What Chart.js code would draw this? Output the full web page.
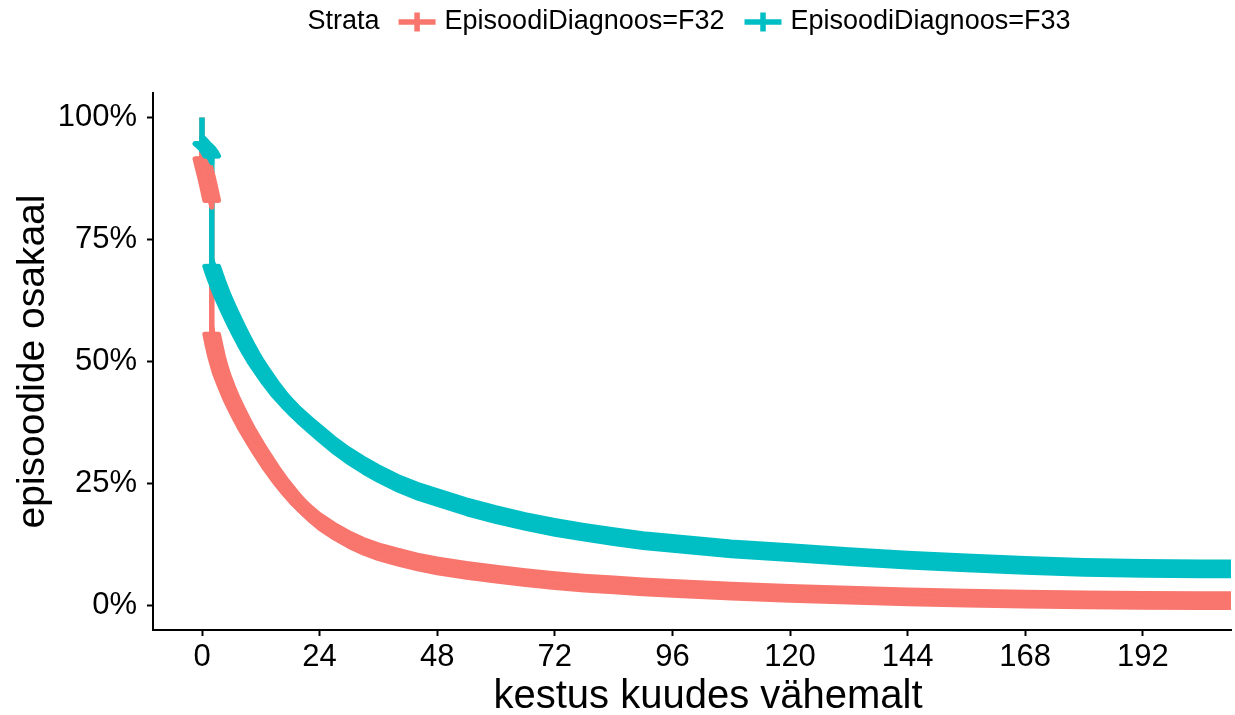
<!DOCTYPE html>
<html lang="et">
<head>
<meta charset="utf-8">
<title>Episoodide kestus diagnoosi järgi</title>
<script src="https://cdn.jsdelivr.net/npm/chart.js@4.4.1/dist/chart.umd.min.js"></script>
<style>
  html, body { margin: 0; padding: 0; background: #ffffff; }
  #wrap { width: 1235px; height: 715px; }
</style>
</head>
<body>
<div id="wrap"><canvas id="km" width="1235" height="715"></canvas></div>
<script>
const FONT = '"Liberation Sans", Arial, Helvetica, sans-serif';

// Strata shown in the legend
const strataTitle = 'Strata';
const strataNames = ['EpisoodiDiagnoos=F32', 'EpisoodiDiagnoos=F33'];
const strataColors = ['#F8766D', '#00BFC4'];

// Kaplan-Meier estimates: duration in months and share of episodes still ongoing (%)
const monthsF32 = [0, 0, 0.5, 1, 1.5, 2, 2, 2.5, 3, 3.5, 4, 5, 6, 7, 8, 9, 10, 11, 12, 14, 16, 18, 20, 22, 24, 27, 30, 33, 36, 40, 44, 48, 54, 60, 66, 72, 78, 84, 90, 96, 108, 120, 132, 144, 156, 168, 180, 192, 204, 216];
const survF32   = [100, 91.5, 89.5, 87.5, 85.3, 83, 55.6, 53.2, 51, 49.2, 47.5, 44.9, 42.5, 40.4, 38.4, 36.5, 34.8, 33.1, 31.5, 28.4, 25.6, 23.1, 20.8, 18.9, 17.2, 15.2, 13.5, 12.1, 11, 9.9, 8.9, 8.1, 7.2, 6.4, 5.7, 5.1, 4.6, 4.2, 3.8, 3.5, 2.95, 2.5, 2.1, 1.75, 1.5, 1.3, 1.15, 1.05, 1.0, 1.0];
const monthsF33 = [0, 0, 0.5, 1, 1.5, 2, 2, 2.5, 3, 3.5, 4, 5, 6, 7, 8, 9, 10, 11, 12, 14, 16, 18, 20, 22, 24, 27, 30, 33, 36, 40, 44, 48, 54, 60, 66, 72, 78, 84, 90, 96, 108, 120, 132, 144, 156, 168, 180, 192, 204, 216];
const survF33   = [100, 94.6, 94.2, 93.7, 93, 92.1, 69.5, 68, 66.6, 65.3, 64, 61.7, 59.5, 57.4, 55.4, 53.5, 51.7, 50, 48.5, 45.6, 43, 40.8, 38.8, 37, 35.3, 32.8, 30.6, 28.7, 27, 25, 23.4, 22.1, 20.2, 18.6, 17.2, 16, 15, 14.1, 13.3, 12.7, 11.6, 10.8, 10, 9.3, 8.7, 8.2, 7.8, 7.6, 7.5, 7.5];

// Axes
const xTicks = [0, 24, 48, 72, 96, 120, 144, 168, 192];
const yTicks = [0, 25, 50, 75, 100];
const xLimits = [-10, 210];
const yLimits = [-5, 105];
const xTitle = 'kestus kuudes vähemalt';
const yTitle = 'episoodide osakaal';

// Survival curve as {x, y} points
function curvePoints(months, surv) {
  return months.map((m, i) => ({ x: m, y: surv[i] }));
}

// Censored stretches of the curve: everything after the start,
// broken wherever the curve drops vertically (events at one time)
function censorPoints(months, surv) {
  const pts = [];
  for (let i = 1; i < months.length; i++) {
    if (months[i] === months[i - 1] && pts.length) pts.push({ x: months[i], y: null });
    pts.push({ x: months[i], y: surv[i] });
  }
  return pts;
}

// Dense "+" censoring marks: the union of crosses along the curve,
// drawn by sweeping the line element horizontally and vertically
const censorBand = {
  id: 'censorBand',
  beforeDatasetDraw(chart, args) {
    const ds = chart.data.datasets[args.index];
    if (!ds.censorArms) return;
    const { ctx, chartArea: a } = chart;
    const line = args.meta.dataset;
    const { arm, step } = ds.censorArms;
    ctx.save();
    ctx.beginPath();
    ctx.rect(a.left, a.top, a.right - a.left, a.bottom - a.top);
    ctx.clip();
    for (let d = -arm; d <= arm + 1e-6; d += step) {
      ctx.save(); ctx.translate(d, 0); line.draw(ctx, a); ctx.restore();
      ctx.save(); ctx.translate(0, d); line.draw(ctx, a); ctx.restore();
    }
    ctx.restore();
    return false;
  }
};

// Legend row at the top ("Strata" and the two keys) and the x-axis title
const strataLegend = {
  id: 'strataLegend',
  afterDraw(chart) {
    const ctx = chart.ctx;
    const a = chart.chartArea;
    ctx.save();
    ctx.font = '27px ' + FONT;
    ctx.textBaseline = 'middle';
    ctx.textAlign = 'left';
    ctx.fillStyle = '#000000';
    const keyW = 37, keyH = 19, gapTitle = 19, gapKey = 9, gapItem = 20;
    const titleW = ctx.measureText(strataTitle).width;
    const nameW = strataNames.map(n => ctx.measureText(n).width);
    let total = titleW + gapTitle;
    nameW.forEach((w, i) => { total += keyW + gapKey + w + (i < nameW.length - 1 ? gapItem : 0); });
    let x = (a.left + a.right) / 2 - total / 2 - 3;
    const y = 22;
    ctx.fillText(strataTitle, x, y);
    x += titleW + gapTitle;
    strataNames.forEach((name, i) => {
      ctx.strokeStyle = strataColors[i];
      ctx.lineWidth = 5.5;
      ctx.lineCap = 'butt';
      ctx.beginPath();
      ctx.moveTo(x, y); ctx.lineTo(x + keyW, y);
      ctx.moveTo(x + keyW / 2, y - keyH / 2); ctx.lineTo(x + keyW / 2, y + keyH / 2);
      ctx.stroke();
      x += keyW + gapKey;
      ctx.fillStyle = '#000000';
      ctx.fillText(name, x, y);
      x += nameW[i] + gapItem;
    });

    // x-axis title, set a little right of the panel centre
    ctx.font = '40px ' + FONT;
    ctx.textAlign = 'center';
    ctx.textBaseline = 'alphabetic';
    ctx.fillText(xTitle, (a.left + a.right) / 2 + 16, 708);
    ctx.restore();
  }
};

const axisCommon = {
  type: 'linear',
  grid: { display: true, drawOnChartArea: false, drawTicks: true, tickLength: 6, tickWidth: 2, tickColor: '#000000' },
  border: { display: true, color: '#000000', width: 2 }
};

const bandStyle = {
  borderWidth: 5, pointRadius: 0, tension: 0, fill: false, spanGaps: false,
  borderCapStyle: 'round', borderJoinStyle: 'round',
  censorArms: { arm: 7, step: 1.25 }
};

new Chart(document.getElementById('km'), {
  type: 'line',
  data: {
    datasets: [
      { label: strataNames[0], data: curvePoints(monthsF32, survF32), borderColor: strataColors[0],
        borderWidth: 5.5, pointRadius: 0, tension: 0, fill: false, borderJoinStyle: 'miter', order: 4 },
      { label: strataNames[1], data: curvePoints(monthsF33, survF33), borderColor: strataColors[1],
        borderWidth: 5.5, pointRadius: 0, tension: 0, fill: false, borderJoinStyle: 'miter', order: 3 },
      Object.assign({ label: strataNames[0] + ' (tsenseeritud)', data: censorPoints(monthsF32, survF32),
        borderColor: strataColors[0], order: 2 }, bandStyle),
      Object.assign({ label: strataNames[1] + ' (tsenseeritud)', data: censorPoints(monthsF33, survF33),
        borderColor: strataColors[1], order: 1 }, bandStyle)
    ]
  },
  options: {
    responsive: false,
    animation: false,
    events: [],
    layout: { padding: { top: 93, right: 4, bottom: 0, left: 0 } },
    plugins: { legend: { display: false }, tooltip: { enabled: false } },
    scales: {
      x: Object.assign({}, axisCommon, {
        min: xLimits[0], max: xLimits[1],
        afterBuildTicks: s => { s.ticks = xTicks.map(v => ({ value: v })); },
        afterFit: s => { s.height = 85; },
        ticks: { color: '#000000', font: { family: FONT, size: 31 }, padding: 3, maxRotation: 0,
                 callback: v => String(v) },
        title: { display: false, text: xTitle }
      }),
      y: Object.assign({}, axisCommon, {
        min: yLimits[0], max: yLimits[1],
        afterBuildTicks: s => { s.ticks = yTicks.map(v => ({ value: v })); },
        afterFit: s => { s.width = 153; },
        ticks: { color: '#000000', font: { family: FONT, size: 31 }, padding: 10,
                 callback: v => v + '%' },
        title: { display: true, text: yTitle, color: '#000000',
                 font: { family: FONT, size: 39, lineHeight: 1 }, padding: { top: 14, bottom: 0 } }
      })
    }
  },
  plugins: [censorBand, strataLegend]
});
</script>
</body>
</html>
